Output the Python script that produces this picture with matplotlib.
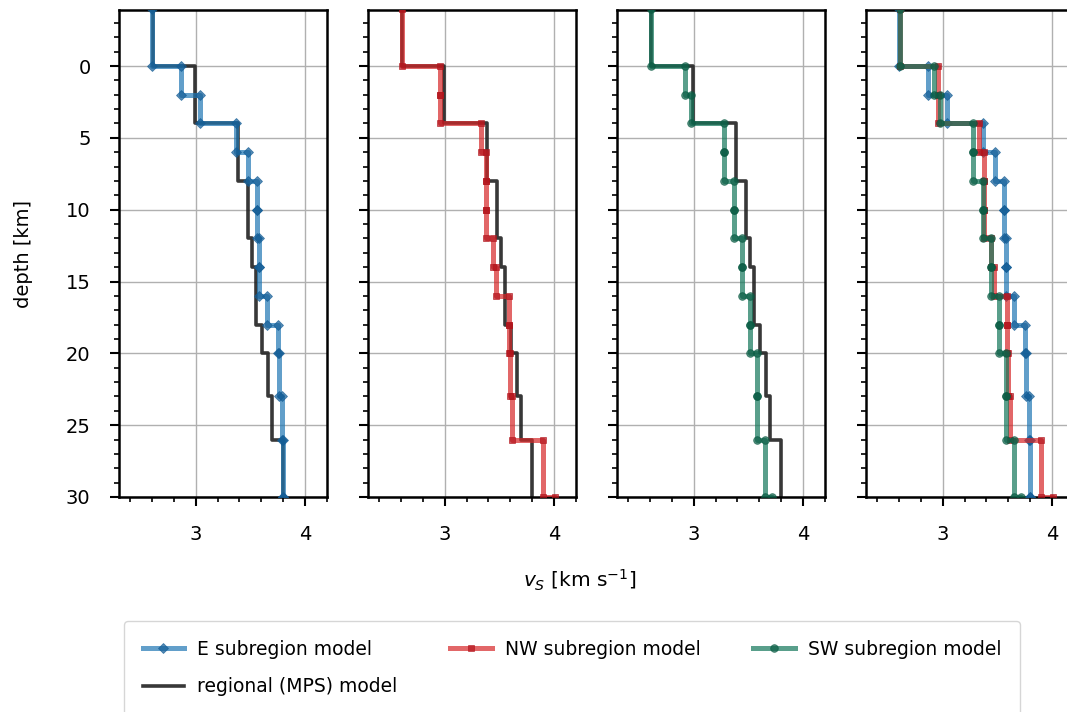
import numpy as np
import matplotlib
matplotlib.use("Agg")
import matplotlib.pyplot as plt
from matplotlib.ticker import MultipleLocator

# layer tops (km); last layer runs to layer_bottom_end
sub_tops = np.array([-4, 0, 2, 4, 6, 8, 10, 12, 14, 16, 18, 20, 23, 26, 30])
sub_bottom_end = 34

vs_E = [2.60, 2.865, 3.04, 3.37, 3.48, 3.56, 3.56, 3.575, 3.575, 3.65, 3.75, 3.765, 3.79, 3.80, 3.80]
vs_NW = [2.61, 2.96, 2.96, 3.335, 3.376, 3.376, 3.376, 3.44, 3.47, 3.59, 3.59, 3.595, 3.615, 3.90, 4.01]
vs_SW = [2.61, 2.92, 2.975, 3.275, 3.275, 3.37, 3.37, 3.44, 3.445, 3.515, 3.515, 3.58, 3.58, 3.65, 3.715]

reg_tops = np.array([-4, 0, 4, 8, 12, 14, 18, 20, 23, 26])
reg_bottom_end = 34
vs_reg = [2.61, 2.99, 3.39, 3.475, 3.515, 3.555, 3.61, 3.66, 3.70, 3.80]

labels = ["E subregion model", "NW subregion model", "SW subregion model"]
line_colors = ["#1f77b4", "#d62728", "#13775a"]
mark_colors = ["#135d96", "#b3141c", "#0a5c44"]
markers = ["D", "s", "o"]
msizes = [5, 5, 5.5]


def steps(tops, bottom_end, vs):
    bottoms = np.append(tops[1:], bottom_end)
    z = np.column_stack([tops, bottoms]).ravel()
    v = np.repeat(vs, 2)
    return v, z


fig = plt.figure(figsize=(10.67, 7.12), dpi=100)
lefts = [119, 368, 617, 866]
axes = [fig.add_axes([l / 1067, 1 - 497 / 712, 208 / 1067, 487 / 712]) for l in lefts]

models = [vs_E, vs_NW, vs_SW]
handles = {}
for i, ax in enumerate(axes):
    ax.set_axisbelow(True)
    ax.grid(True, color="#b0b0b0", lw=1)
    which = [i] if i < 3 else [0, 1, 2]
    for k in which:
        v, z = steps(sub_tops, sub_bottom_end, models[k])
        h, = ax.plot(v, z, color=line_colors[k], alpha=0.7, lw=3.6, marker=markers[k],
                     ms=msizes[k], mfc=mark_colors[k], mec=mark_colors[k], mew=0.6,
                     label=labels[k], zorder=3)
        handles[k] = h
    if i < 3:
        v, z = steps(reg_tops, reg_bottom_end, vs_reg)
        h, = ax.plot(v, z, color="#222222", alpha=0.9, lw=2.6, label="regional (MPS) model", zorder=2)
        handles[3] = h
    ax.set_xlim(2.3, 4.2)
    ax.set_ylim(30, -3.9)
    ax.xaxis.set_major_locator(MultipleLocator(1))
    ax.xaxis.set_minor_locator(MultipleLocator(0.2))
    ax.yaxis.set_major_locator(MultipleLocator(5))
    ax.yaxis.set_minor_locator(MultipleLocator(1))
    ax.tick_params(which="major", length=6.5, width=1.5, labelsize=14, pad=14)
    ax.tick_params(which="minor", length=3.6, width=1.2)
    for s in ax.spines.values():
        s.set_linewidth(1.8)
    if i > 0:
        ax.set_yticklabels([])

axes[0].set_ylabel("depth [km]", fontsize=14)
axes[0].yaxis.set_label_coords(-0.415, 0.5)
fig.text(580 / 1067, 1 - 580 / 712, r"$v_S$ [km s$^{-1}$]", ha="center", va="center", fontsize=14.5)

order = [handles[0], handles[3], handles[1], handles[2]]
fig.legend(order, [hh.get_label() for hh in order], ncol=3, loc="upper left",
           bbox_to_anchor=(124 / 1067, 1 - 621 / 712 - 0.25, 896 / 1067, 0.25),
           mode="expand", fontsize=13.5, handlelength=2.2, handletextpad=0.7,
           borderaxespad=0, borderpad=1.0, labelspacing=1.0)

fig.savefig("out.png", dpi=100)
